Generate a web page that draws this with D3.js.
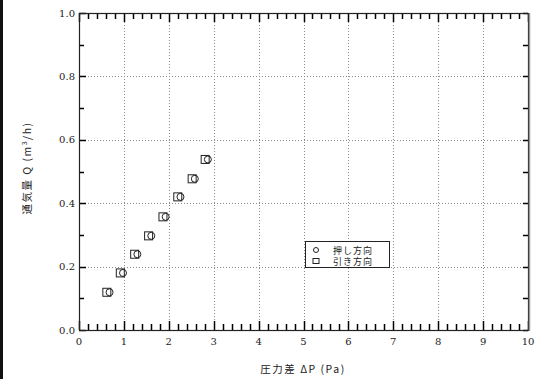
<!DOCTYPE html>
<html>
<head>
<meta charset="utf-8">
<script src="https://cdn.jsdelivr.net/npm/d3@7"></script>
<style>
  body{margin:0;background:#fff;}
  svg{display:block;}
  .jp{font-family:"Noto Sans CJK JP",sans-serif;fill:#222;}
</style>
</head>
<body>
<script>
'use strict';

// 押し方向 (circle) and 引き方向 (square)
var pushX=[0.68,0.98,1.30,1.61,1.93,2.26,2.58,2.87]
  , pushY=[0.119,0.180,0.239,0.297,0.357,0.420,0.477,0.538]
  , pullX=[0.62,0.92,1.24,1.55,1.87,2.20,2.52,2.81]
  , pullY=[0.119,0.180,0.239,0.297,0.357,0.420,0.477,0.538]
  , xTicks=[0,1,2,3,4,5,6,7,8,9,10]
  , yTicks=[0,0.2,0.4,0.6,0.8,1.0]
  , legendNames=['押し方向','引き方向']

var W=544, H=379
  , plotL=79, plotR=528, plotT=13, plotB=330

var svg=d3.select('body').append('svg')
    .attr('width',W)
    .attr('height',H)

// dark strip on the left edge of the scan
svg.append('rect')
    .attr('x',0).attr('y',0)
    .attr('width',3).attr('height',H)
    .attr('fill','#111')

var x=d3.scaleLinear().domain([0,10]).range([plotL,plotR])
  , y=d3.scaleLinear().domain([0,1]).range([plotB,plotT])

function px(v){return Math.round(v)+0.5}

// dotted grid
var grid=svg.append('g')
    .attr('stroke','#8a8a8a')
    .attr('stroke-width',1)
    .attr('stroke-dasharray','1,2')

grid.selectAll('line.vx')
    .data(xTicks.slice(1,-1))
    .enter().append('line')
    .attr('x1',function(d){return px(x(d))})
    .attr('x2',function(d){return px(x(d))})
    .attr('y1',plotT)
    .attr('y2',plotB)

grid.selectAll('line.hy')
    .data(yTicks.slice(1,-1))
    .enter().append('line')
    .attr('y1',function(d){return px(y(d))})
    .attr('y2',function(d){return px(y(d))})
    .attr('x1',plotL)
    .attr('x2',plotR)

var xMinor=d3.range(0,10.01,0.2)
  , yMinor=d3.range(0,1.001,0.1)

// tick marks, all pointing into the plot
var tk=svg.append('g')
    .attr('stroke','#000')
    .attr('stroke-width',1.5)

function isMajorX(d){return Math.abs(d-Math.round(d))<1e-6}
function isMajorY(d){return Math.abs(d*5-Math.round(d*5))<1e-6}

tk.selectAll('line.xb')
    .data(xMinor)
    .enter().append('line')
    .attr('x1',function(d){return px(x(d))})
    .attr('x2',function(d){return px(x(d))})
    .attr('y1',plotB)
    .attr('y2',function(d){return plotB-(isMajorX(d)?9:6)})
tk.selectAll('line.xt')
    .data(xMinor)
    .enter().append('line')
    .attr('x1',function(d){return px(x(d))})
    .attr('x2',function(d){return px(x(d))})
    .attr('y1',plotT)
    .attr('y2',function(d){return plotT+(isMajorX(d)?9:6)})
tk.selectAll('line.yl')
    .data(yMinor)
    .enter().append('line')
    .attr('y1',function(d){return px(y(d))})
    .attr('y2',function(d){return px(y(d))})
    .attr('x1',plotL)
    .attr('x2',function(d){return plotL+(isMajorY(d)?7:5)})
tk.selectAll('line.yr')
    .data(yMinor)
    .enter().append('line')
    .attr('y1',function(d){return px(y(d))})
    .attr('y2',function(d){return px(y(d))})
    .attr('x1',plotR)
    .attr('x2',plotR-5)

// tick labels
var fmtY=d3.format('.1f')
svg.append('g')
    .style('font-family','"DejaVu Serif", "Liberation Serif", serif')
    .style('font-size','10px')
    .attr('fill','#222')
    .attr('text-anchor','middle')
    .selectAll('text')
    .data(xTicks)
    .enter().append('text')
    .attr('x',function(d){return x(d)})
    .attr('y',plotB+15)
    .text(function(d){return d})

svg.append('g')
    .style('font-family','"DejaVu Serif", "Liberation Serif", serif')
    .style('font-size','10px')
    .attr('fill','#222')
    .attr('text-anchor','end')
    .selectAll('text')
    .data(yTicks)
    .enter().append('text')
    .attr('x',plotL-4)
    .attr('y',function(d){return y(d)+3.5})
    .text(function(d){return fmtY(d)})

// frame
svg.append('rect')
    .attr('x',plotL+0.5)
    .attr('y',plotT+0.5)
    .attr('width',plotR-plotL)
    .attr('height',plotB-plotT)
    .attr('fill','none')
    .attr('stroke','#222')
    .attr('stroke-width',1.2)
svg.append('line')
    .attr('x1',plotR+1.5).attr('x2',plotR+1.5)
    .attr('y1',plotT).attr('y2',plotB+1)
    .attr('stroke','#999')
    .attr('stroke-width',1.5)

// points
var pts=svg.append('g')
    .attr('fill','none')
    .attr('stroke','#222')
    .attr('stroke-width',1)

pts.selectAll('rect')
    .data(d3.range(pullX.length))
    .enter().append('rect')
    .attr('x',function(i){return x(pullX[i])-4})
    .attr('y',function(i){return y(pullY[i])-4})
    .attr('width',8)
    .attr('height',8)

pts.selectAll('circle')
    .data(d3.range(pushX.length))
    .enter().append('circle')
    .attr('cx',function(i){return x(pushX[i])})
    .attr('cy',function(i){return y(pushY[i])})
    .attr('r',3.5)

// legend
var lg=svg.append('g').attr('transform','translate(305,241)')
lg.append('rect')
    .attr('x',0.5).attr('y',0.5)
    .attr('width',84).attr('height',26)
    .attr('fill','#fff')
    .attr('stroke','#222')
lg.append('circle')
    .attr('cx',11).attr('cy',9)
    .attr('r',2.5)
    .attr('fill','none').attr('stroke','#222')
lg.append('rect')
    .attr('x',8).attr('y',17.5)
    .attr('width',6).attr('height',5)
    .attr('fill','none').attr('stroke','#222')
lg.selectAll('text')
    .data(legendNames)
    .enter().append('text')
    .attr('class','jp')
    .attr('x',28)
    .attr('y',function(d,i){return 12.5+i*11.5})
    .attr('font-size',9)
    .attr('letter-spacing',1)
    .text(function(d){return d})

// axis titles
svg.append('text')
    .attr('class','jp')
    .attr('x',303)
    .attr('y',373)
    .attr('text-anchor','middle')
    .attr('font-size',10.5)
    .attr('letter-spacing',1.5)
    .text('圧力差 ΔP (Pa)')

var yt=svg.append('text')
    .attr('class','jp')
    .attr('transform','translate(31,168) rotate(-90)')
    .attr('text-anchor','middle')
    .attr('font-size',10.5)
    .attr('letter-spacing',1.5)
yt.append('tspan').text('通気量 Q (m')
yt.append('tspan').attr('dy',-4).attr('font-size',7).text('3')
yt.append('tspan').attr('dy',4).text('/h)')
</script>
</body>
</html>
